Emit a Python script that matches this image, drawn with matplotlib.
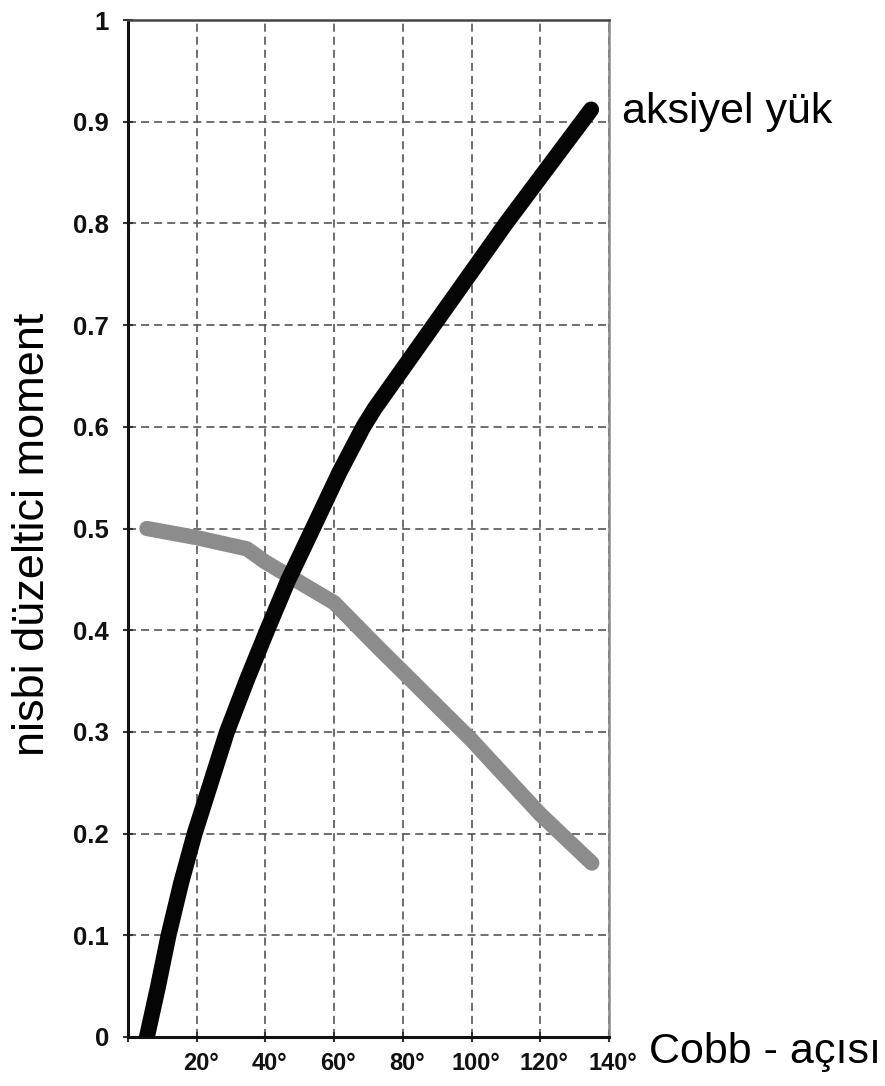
import matplotlib
matplotlib.use("Agg")
import matplotlib.pyplot as plt
from matplotlib.transforms import ScaledTranslation

plt.rcParams['font.family'] = ['Liberation Sans', 'DejaVu Sans']
plt.rcParams['lines.scale_dashes'] = False

# Data
axial_x = [5.5, 8.7, 11.8, 15.5, 19.4, 28.8, 34.6, 40.5, 46.6, 53.8, 61.5, 68.5, 71.8, 89.0, 110.0, 134.8]
axial_y = [0.0, 0.049, 0.1, 0.152, 0.2, 0.3, 0.351, 0.4, 0.449, 0.5, 0.555, 0.6, 0.618, 0.7, 0.8, 0.912]
other_x = [5.5, 20.0, 34.6, 40.0, 48.0, 60.0, 73.4, 80.0, 100.0, 120.0, 135.0]
other_y = [0.5, 0.491, 0.480, 0.467, 0.451, 0.427, 0.381, 0.359, 0.292, 0.219, 0.171]

xticks = [0, 20, 40, 60, 80, 100, 120, 140]
xtick_labels = ['', '20°', '40°', '60°', '80°', '100°', '120°', '140°']
yticks = [0, 0.1, 0.2, 0.3, 0.4, 0.5, 0.6, 0.7, 0.8, 0.9, 1.0]
ytick_labels = ['0', '0.1', '0.2', '0.3', '0.4', '0.5', '0.6', '0.7', '0.8', '0.9', '1']

fig = plt.figure(figsize=(8.85, 10.86), dpi=100)
ax = fig.add_axes([128/885, 49/1086, (609-128)/885, (1037-20)/1086])

ax.plot(other_x, other_y, color='#8c8c8c', lw=11, solid_capstyle='round',
        solid_joinstyle='round', zorder=3)
ax.plot(axial_x, axial_y, color='#050505', lw=11.5, solid_capstyle='round',
        solid_joinstyle='round', zorder=4)

ax.set_xlim(0, 140)
ax.set_ylim(0, 1)
ax.set_xticks(xticks)
ax.set_xticklabels(xtick_labels, fontsize=17, fontweight='bold', color='#111111')
ax.set_yticks(yticks)
ax.set_yticklabels(ytick_labels, fontsize=18.5, fontweight='bold', color='#111111')
ax.tick_params(axis='both', direction='inout', length=7, width=1.5, color='#333333')
ax.tick_params(axis='x', pad=7)
ax.tick_params(axis='y', pad=10)

for lab in ax.get_xticklabels():
    lab.set_transform(lab.get_transform() + ScaledTranslation(4/100, 0, fig.dpi_scale_trans))

ax.grid(True, linestyle=(0, (5.8, 3.6)), color='#555555', lw=1.2)
ax.set_axisbelow(True)

ax.spines['left'].set_linewidth(2.2)
ax.spines['left'].set_color('#111111')
ax.spines['bottom'].set_linewidth(2.2)
ax.spines['bottom'].set_color('#111111')
ax.spines['top'].set_linewidth(1.8)
ax.spines['top'].set_color('#444444')
ax.spines['right'].set_linewidth(1.8)
ax.spines['right'].set_color('#8a8a8a')

fig.text(33/885, 1 - 534/1086, 'nisbi düzeltici moment', rotation=90,
         fontsize=32.5, ha='center', va='center')
fig.text(622/885, 1 - 112/1086, 'aksiyel yük', fontsize=31, ha='left', va='center')
fig.text(649/885, 1 - 1052/1086, 'Cobb - açısı', fontsize=31, ha='left', va='center')

fig.savefig('out.png', dpi=100)
